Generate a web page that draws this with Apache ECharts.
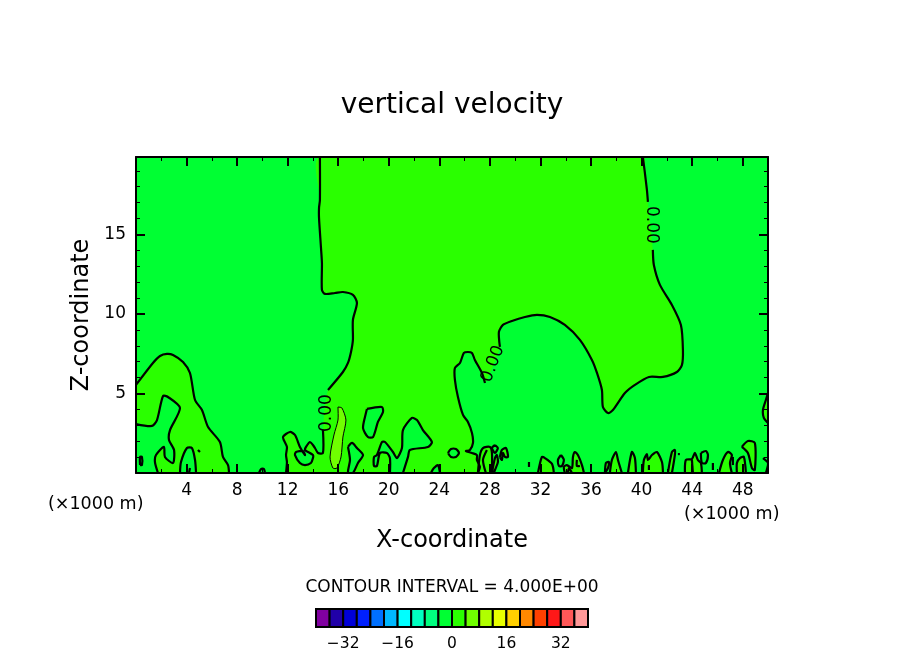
<!DOCTYPE html>
<html>
<head>
<meta charset="utf-8">
<style>html,body{margin:0;padding:0;background:#fff}#c{width:904px;height:654px}</style>
<script src="https://cdn.jsdelivr.net/npm/echarts@6/dist/echarts.min.js"></script>
</head>
<body>
<div id="c"></div>
<script>
const X_MAX = 50, Z_MAX = 19.87;
const xTickLabels = [4,8,12,16,20,24,28,32,36,40,44,48];
const zTickLabels = [5,10,15];
const legendTickLabels = [-32,-16,0,16,32];
const legendLevels = [-40,-36,-32,-28,-24,-20,-16,-12,-8,-4,0,4,8,12,16,20,24,28,32,36];
const legendColors = ['#8000a0','#2000a8','#0000d8','#0020ff','#0070ff','#00b8ff','#00ffff','#00ffc0','#00ff80','#00ff33','#2aff00','#70ff00','#b0ff00','#e8ff00','#ffd000','#ff8800','#ff4000','#ff1818','#ff5858','#ff9898'];
const NEG = '#00ff33', POS = '#2aff00', POS2 = '#70ff00';

// zero contour of the main updraft region (x, z in km)
const contourA = [[14.55,19.87],[14.55,17.17],[14.48,16.67],[14.48,16.04],[14.63,14.22],[14.71,13.21],[14.71,11.51],[14.95,11.26],[15.74,11.32],[16.37,11.38],[17.16,11.2],[17.48,10.69],[17.16,9.62],[17.16,8.37],[17.01,7.61],[16.77,6.92],[16.37,6.35],[15.19,5.22]];
const contourB = [[14.79,2.7],[14.79,1.26],[14.4,1.26],[14.16,1.57],[14,1.76],[13.76,1.95],[13.45,1.64],[13.37,1.45],[14,1.13],[14,0.94],[13.84,0.63],[13.37,0.5],[12.97,0.63],[12.58,1.13],[12.66,1.32],[13.21,1.38],[13.37,1.13],[12.97,1.64],[12.58,2.39],[12.18,2.58],[11.63,2.26],[11.94,1.64],[11.87,1.13],[11.94,0.69],[11.87,0]];
const contourC = [[27.61,5.66],[27.37,6.29],[26.81,7.11],[26.58,7.55],[26.26,7.61],[25.94,7.55],[25.63,6.92],[25.23,6.6],[25.23,5.85],[25.47,4.78],[25.87,3.65],[26.26,3.21],[26.58,2.52],[26.66,1.89],[26.42,1.45],[26.1,1.38],[26.58,1.26],[26.97,1.13],[26.97,0.82],[27.21,0.38],[27.05,0]];
const contourD = [[28.79,7.93],[28.71,8.87],[29.03,9.31],[29.74,9.56],[30.77,9.81],[31.72,9.94],[32.75,9.81],[33.93,9.31],[35.12,8.37],[36.07,7.11],[36.47,6.29],[36.86,5.22],[36.94,4.15],[37.34,3.77],[37.73,3.96],[38.68,5.03],[39.47,5.54],[40.58,6.04],[41.69,6.04],[42.79,6.35],[43.19,6.79],[43.27,7.74],[43.11,9.31],[42.4,10.57],[41.45,11.83],[40.97,13.08],[40.89,14.03]];
const contourE = [[40.5,17.05],[40.42,17.8],[40.26,18.87],[40.1,19.87]];
const mainRegion = [...contourA, ...contourB, ...[...contourC].reverse(), ...contourD, ...contourE];

// left hump
const hump = [[0,5.54],[1.34,6.92],[1.9,7.36],[2.45,7.49],[2.93,7.42],[3.72,6.98],[4.27,6.29],[4.67,4.59],[5.22,3.96],[5.7,2.89],[6.64,1.95],[6.88,1.01],[7.28,0.5],[7.36,0]];
const humpArea = [...hump, [0,0]];

// closed positive patches near the ground
const edgeRight = [[50,5.03],[49.83,4.59],[49.6,3.96],[49.67,3.46],[50,3.14]];
const f1 = [[27.05,0],[27.21,1.13],[27.45,1.57],[28,1.64],[28.16,1.26],[28.16,0]];
const f3 = [[28.16,0],[28.4,0.94],[28.55,1.13],[28.63,0.69],[28.4,0.19],[28.32,0]];
const f4 = [[28.79,1.01],[28.95,1.45],[29.27,1.57],[29.43,1.01],[29.19,1.01],[29.03,1.26],[28.95,0.82],[28.79,1.01]];
const f5 = [[31.8,0],[32.11,1.01],[32.35,0.94],[32.91,0.57],[33.06,0]];
const f7 = [[33.93,0],[33.85,0.38],[34.09,0.5],[34.49,0.31],[34.57,1.01],[34.72,1.32],[34.96,1.13],[35.28,0.5],[35.44,0]];
const f9 = [[37.1,0],[37.18,0.63],[37.41,0.69],[37.34,0.31],[37.1,0]];
const f10 = [[37.49,0],[37.65,0.82],[37.97,1.32],[38.13,0.82],[38.44,0]];
const f11 = [[38.92,0],[39.23,1.32],[39.47,0.94],[39.55,0]];
const f12 = [[40.1,0],[40.18,0.82],[40.42,1.19],[40.5,0.82],[40.82,1.13],[41.21,1.32],[41.61,0.69],[41.69,0]];
const f13 = [[42.08,0],[42.4,1.32],[42.63,1.45],[42.63,1.13],[42.4,0]];
const f14 = [[43.43,0],[43.5,0.82],[43.98,0.88],[44.22,1.26],[44.45,0.82],[44.69,0.63],[44.77,0]];
const f16 = [[46.12,0],[46.43,0.82],[46.83,1.32],[47.14,1.13],[46.99,0.63],[47.14,0]];
const f17 = [[47.54,0],[47.54,0.63],[47.78,0.94],[48.09,1.01],[48.25,0]];
const f18 = [[47.93,1.64],[48.41,2.01],[48.96,1.89],[48.96,0.19],[48.73,0.31],[48.41,1.26],[47.93,1.64]];
const f6 = [[33.62,1.13],[33.85,0.82],[33.7,0.44],[33.46,0.44],[33.38,0.82],[33.62,1.13]];
const f2 = [[28.4,1.76],[28.63,1.57],[28.4,1.26],[28.16,1.57],[28.4,1.76]];
const f15 = [[44.69,1.26],[45.09,1.38],[45.25,1.13],[45.09,0.63],[44.77,0.63],[44.69,1.26]];

// holes of negative velocity inside the updraft
const hole1 = [[18.27,4.03],[19.46,4.15],[19.54,3.84],[19.14,3.21],[18.75,2.26],[18.35,2.26],[17.96,2.83],[18.19,3.77],[18.27,4.03]];
const hole2 = [[20.09,0],[20.09,0.94],[19.85,1.26],[19.3,1.26],[19.06,0.44],[18.83,0.44],[18.83,1.01],[19.06,1.13],[19.46,1.95],[19.7,1.95],[20.33,1.32],[20.65,0.94],[21.04,1.57],[21.12,2.7],[21.83,3.46],[22.23,3.33],[22.7,2.7],[23.41,1.95],[23.1,1.64],[21.67,1.45],[21.52,1.01],[21.12,0]];
const hole3 = [[16.77,1.64],[17.09,1.89],[17.48,1.57],[17.96,1.13],[17.56,0.63],[17.16,0],[16.77,0],[16.93,0.82],[16.77,1.64]];
const hole4 = [[24.68,1.26],[24.92,1.51],[25.31,1.51],[25.55,1.26],[25.31,1.01],[24.92,1.01],[24.68,1.26]];
const hole5 = [[23.33,0],[23.57,0.31],[23.89,0.5],[24.05,0]];
const holeL1 = [[0,3.08],[1.27,2.96],[1.66,3.33],[2.14,4.84],[2.53,4.78],[3.48,4.09],[2.69,2.7],[2.61,2.08],[3.01,1.45],[2.93,0.63],[2.29,1.01],[2.21,1.64],[1.58,1.13],[1.5,0.69],[1.74,0]];
const holeL1Area = [...holeL1, [0,0]];
const holeL2 = [[3.48,0],[3.56,0.69],[4.03,1.57],[4.43,1.57],[4.67,0.82],[4.75,0]];

// the 4 m/s closed contour
const spike = [[15.98,4.15],[16.29,4.09],[16.61,3.33],[16.37,2.26],[16.22,1.01],[15.9,0.31],[15.58,0.31],[15.35,1.01],[15.66,2.39],[15.98,3.33],[15.98,4.15]];

// short extra contour pieces
const bits = [
  [[27.76,1.45],[27.45,0.82],[27.68,0]],
  [[0.32,0.5],[0.32,1.01],[0.47,1.01],[0.47,0.5],[0.32,0.5]],
  [[4.9,1.45],[5.06,1.32]],
  [[4.27,0.31],[4.19,0]],
  [[9.73,0],[9.89,0.25],[10.12,0.25],[10.2,0]],
  [[31.09,0.69],[31.09,0.38]],
  [[34.17,0],[34.25,0.31],[34.49,0]],
  [[34.88,0.82],[34.88,0.44],[35.12,0.44]],
  [[40.58,0.5],[40.58,0.19]],
  [[42.87,1.19],[43.03,1.19]],
  [[43.98,0.82],[44.06,0]],
  [[45.64,0.63],[45.64,0.19]],
  [[47.22,1.01],[47.22,0.5]],
  [[49.6,0.94],[50,0.63],[49.83,0]]
];

const contourLabelText = '0.00';
const labelX = [15.05, 28.24, 40.74];
const labelZ = [3.77, 6.86, 15.6];
const labelAngle = [90, 69, -90];

const fills = [
  [mainRegion,POS],[humpArea,POS],[edgeRight,POS],[f1,POS],[f3,POS],[f4,POS],[f5,POS],[f7,POS],[f9,POS],[f10,POS],[f11,POS],[f12,POS],[f13,POS],[f14,POS],[f16,POS],[f17,POS],[f18,POS],
  [hole1,NEG],[hole2,NEG],[hole3,NEG],[hole4,NEG],[hole5,NEG],[holeL1Area,NEG],[holeL2,NEG],[f6,NEG],[f2,NEG],[f15,NEG],
  [spike,POS2]
];
const lines = [contourA,contourB,contourC,contourD,contourE,hump,holeL1,holeL2,edgeRight,f1,f2,f3,f4,f5,f6,f7,f9,f10,f11,f12,f13,f14,f15,f16,f17,f18,hole1,hole2,hole3,hole4,hole5,...bits];

const FONT = 'DejaVu Sans';
const SMOOTH = 0.25;
const fmtX = v => xTickLabels.includes(v) ? String(v) : '';
const fmtZ = v => zTickLabels.includes(v) ? String(v) : '';
const fmtLegend = v => legendTickLabels.includes(v) ? String(v).replace('-', '\u2212') : '';
const lineAxis = {show:true, lineStyle:{color:'#000', width:2}};

function xAx(position, interval, len, width, labels, extra) {
  return Object.assign({type:'value', gridIndex:0, position, min:0, max:X_MAX, interval, z:10,
    splitLine:{show:false},
    axisLine:len > 5 ? Object.assign({onZero:false}, lineAxis) : {show:false, onZero:false},
    axisTick:{show:true, inside:true, length:len, lineStyle:{color:'#000', width}},
    axisLabel:labels ? {show:true, formatter:fmtX, fontFamily:FONT, fontSize:17, color:'#000', margin:9} : {show:false}
  }, extra || {});
}
function yAx(position, interval, len, width, labels, extra) {
  return Object.assign({type:'value', gridIndex:0, position, min:0, max:Z_MAX, interval, z:10,
    splitLine:{show:false},
    axisLine:len > 5 ? Object.assign({onZero:false}, lineAxis) : {show:false, onZero:false},
    axisTick:{show:true, inside:true, length:len, lineStyle:{color:'#000', width}},
    axisLabel:labels ? {show:true, formatter:fmtZ, fontFamily:FONT, fontSize:17, color:'#000', margin:10} : {show:false}
  }, extra || {});
}

const option = {
  animation:false,
  backgroundColor:'#fff',
  title:[
    {text:'vertical velocity', left:'center', top:87, textStyle:{fontFamily:FONT, fontSize:28, fontWeight:'normal', color:'#000'}},
    {text:'(\u00d71000 m)', left:43, top:490, textStyle:{fontFamily:FONT, fontSize:17.5, fontWeight:'normal', color:'#000'}},
    {text:'(\u00d71000 m)', left:679, top:500, textStyle:{fontFamily:FONT, fontSize:17.5, fontWeight:'normal', color:'#000'}},
    {text:'CONTOUR INTERVAL = 4.000E+00', left:'center', top:574, textStyle:{fontFamily:FONT, fontSize:17, fontWeight:'normal', color:'#000'}}
  ],
  grid:[
    {left:136, top:157, width:632, height:316, show:true, backgroundColor:NEG, borderWidth:0},
    {left:316, top:609, width:272, height:18, show:false}
  ],
  xAxis:[
    xAx('bottom',4,9,2,true,{name:'X-coordinate', nameLocation:'middle', nameGap:56, nameTextStyle:{fontFamily:FONT, fontSize:24, color:'#000'}}),
    xAx('bottom',2,4,1,false),
    xAx('top',4,9,2,false),
    xAx('top',2,4,1,false),
    {type:'value', gridIndex:1, min:-40, max:40, interval:8, splitLine:{show:false}, axisLine:{show:false}, axisTick:{show:false},
     axisLabel:{formatter:fmtLegend, fontFamily:FONT, fontSize:15.5, color:'#000', margin:9}}
  ],
  yAxis:[
    yAx('left',5,9,2,true,{name:'Z-coordinate', nameLocation:'middle', nameGap:39, nameTextStyle:{fontFamily:FONT, fontSize:24, color:'#000'}}),
    yAx('left',1,4,1,false),
    yAx('right',5,9,2,false),
    yAx('right',1,4,1,false),
    {type:'value', gridIndex:1, min:0, max:1, show:false}
  ],
  series:[
    {type:'custom', xAxisIndex:0, yAxisIndex:0, coordinateSystem:'cartesian2d', silent:true, z:2, clip:true,
     data:fills.map((f,i)=>[i]), encode:{x:0},
     renderItem:(p,api)=>{const f=fills[api.value(0)];
       return {type:'polygon', shape:{points:f[0].map(q=>api.coord(q)), smooth:SMOOTH}, style:{fill:f[1], stroke:f[1]===POS2?'#000':null, lineWidth:f[1]===POS2?1:0}};}},
    {type:'custom', xAxisIndex:0, yAxisIndex:0, coordinateSystem:'cartesian2d', silent:true, z:3, clip:true,
     data:lines.map((f,i)=>[i]), encode:{x:0},
     renderItem:(p,api)=>({type:'polyline', shape:{points:lines[api.value(0)].map(q=>api.coord(q)), smooth:SMOOTH}, style:{fill:null, stroke:'#000', lineWidth:2.2}})},
    {type:'custom', xAxisIndex:0, yAxisIndex:0, coordinateSystem:'cartesian2d', silent:true, z:4,
     data:labelX.map((v,i)=>[v,labelZ[i],labelAngle[i]]), encode:{x:0,y:1},
     renderItem:(p,api)=>{const c=api.coord([api.value(0),api.value(1)]);
       return {type:'text', x:c[0], y:c[1], rotation:api.value(2)*Math.PI/180,
         style:{text:contourLabelText, fill:'#000', fontFamily:FONT, fontSize:17, textAlign:'center', textVerticalAlign:'middle'}};}},
    {type:'custom', xAxisIndex:4, yAxisIndex:4, coordinateSystem:'cartesian2d', silent:true,
     data:legendLevels.map((v,i)=>[v,i]), encode:{x:0},
     renderItem:(p,api)=>{const a=api.coord([api.value(0),1]), b=api.coord([api.value(0)+4,0]);
       return {type:'rect', shape:{x:a[0],y:a[1],width:b[0]-a[0],height:b[1]-a[1]},
         style:{fill:legendColors[api.value(1)], stroke:'#000', lineWidth:2}};}}
  ]
};
echarts.init(document.getElementById('c'), null, {renderer:'canvas'}).setOption(option);
</script>
</body>
</html>
